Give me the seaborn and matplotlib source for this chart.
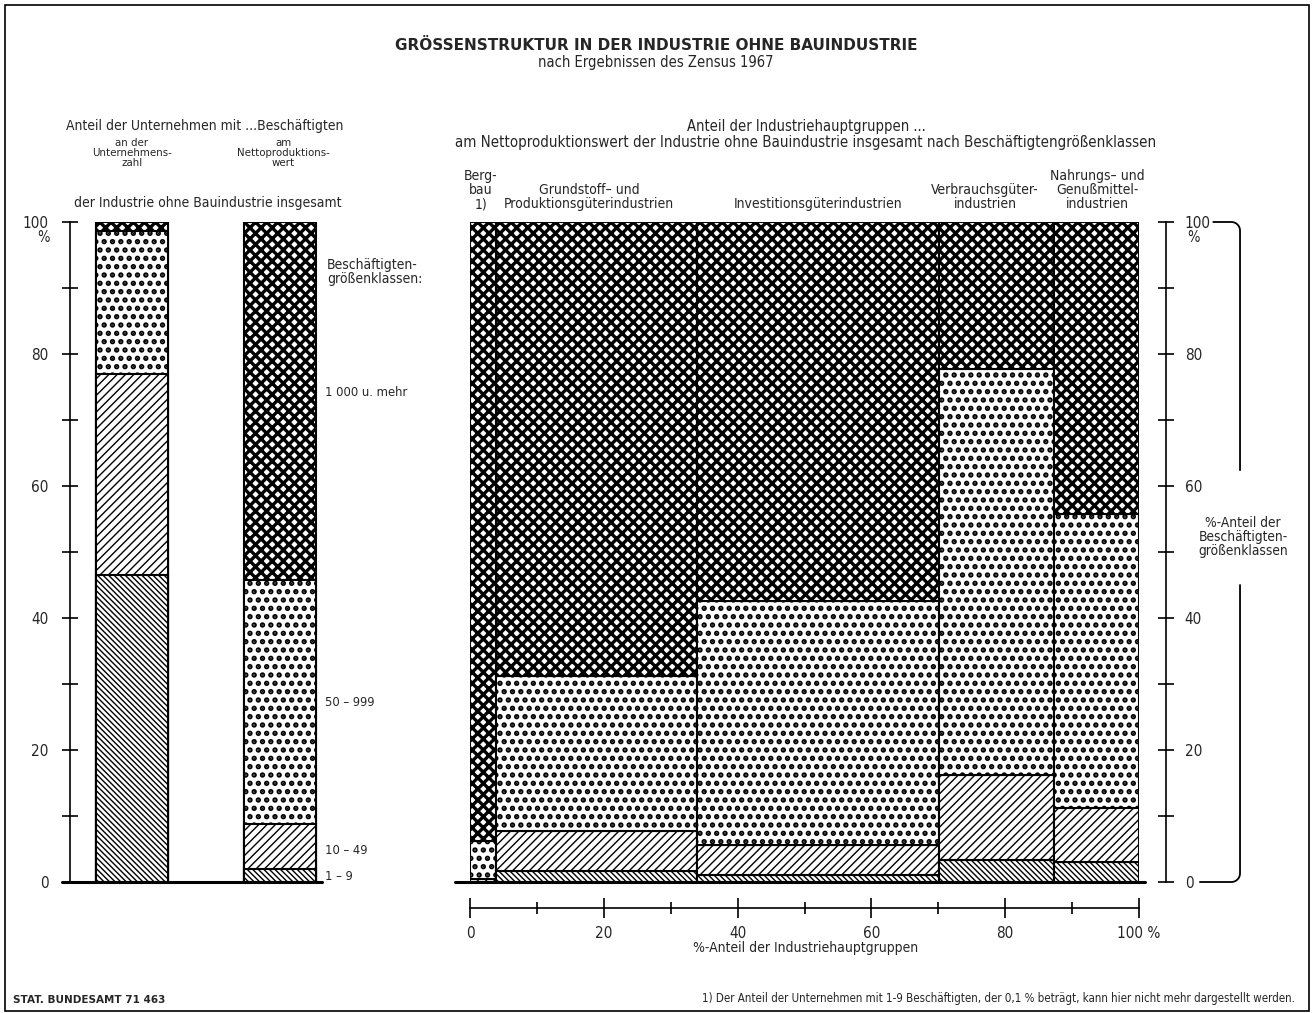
import numpy as np
import pandas as pd
import matplotlib
matplotlib.use('Agg')
import matplotlib.pyplot as plt
import seaborn as sns
from matplotlib.patches import Rectangle

sns.set_style('white')
plt.rcParams['font.family'] = ['DejaVu Sans']
plt.rcParams['font.stretch'] = 'condensed'
plt.rcParams['hatch.color'] = 'black'

# Beschäftigtengrößenklassen und ihre Schraffuren
klassen = ['1 – 9', '10 – 49', '50 – 999', '1 000 u. mehr']
schraffur = ['\\' * 6, '////', '..', 'xxx']
schraffur_lw = [1.0, 1.0, 2.6, 2.4]

# linker Teil: Anteil der Unternehmen (%)
links_bezug = ['Unternehmenszahl', 'Nettoproduktionswert']
links_1_9 = [46.5, 2.0]
links_10_49 = [30.5, 6.8]
links_50_999 = [21.6, 37.0]
links_1000 = [1.4, 54.2]

# rechter Teil: Industriehauptgruppen (Breite = Anteil am Nettoproduktionswert)
gruppen = ['Bergbau', 'Grundstoff', 'Investition', 'Verbrauch', 'Nahrung']
gruppen_breite = [3.9, 30.0, 36.2, 17.2, 12.7]
rechts_1_9 = [0.0, 1.6, 1.0, 3.3, 3.0]
rechts_10_49 = [0.4, 6.1, 4.6, 12.9, 8.2]
rechts_50_999 = [5.8, 23.5, 37.0, 61.5, 44.6]
rechts_1000 = [93.8, 68.8, 57.4, 22.3, 44.2]

W, H = 1313, 1013
fig = plt.figure(figsize=(W / 100, H / 100), dpi=100)


def fx(px):
    return px / W


def fy(py):
    return 1 - py / H


def hatch_lw(patch, lw):
    try:
        patch.set_hatch_linewidth(lw)
    except AttributeError:
        pass


# ---------------- linker Teil ----------------
ax1 = fig.add_axes([fx(70), fy(882), (322 - 70) / W, 660 / H])
df = pd.DataFrame({'bezug': links_bezug, klassen[0]: links_1_9, klassen[1]: links_10_49,
                   klassen[2]: links_50_999, klassen[3]: links_1000})
kum = df[klassen].cumsum(axis=1)
kum['bezug'] = df['bezug']

# übereinander gezeichnete kumulierte Balken = gestapelte Balken
for i in reversed(range(len(klassen))):
    plt.rcParams['hatch.linewidth'] = schraffur_lw[i]
    n0 = len(ax1.patches)
    sns.barplot(data=kum, x='bezug', y=klassen[i], color='white', saturation=1,
                edgecolor='black', linewidth=1.5, width=0.486, errorbar=None, ax=ax1)
    for p in ax1.patches[n0:]:
        p.set_hatch(schraffur[i])
        hatch_lw(p, schraffur_lw[i])

ax1.set_xlim(-0.419, 1.284)
ax1.set_ylim(0, 100)
ax1.set_xlabel('')
ax1.set_ylabel('')
ax1.set_xticks([])
for s in ['top', 'right', 'bottom']:
    ax1.spines[s].set_visible(False)
ax1.spines['left'].set_linewidth(1.2)
ax1.spines['left'].set_color('black')
ax1.set_yticks([0, 20, 40, 60, 80, 100])
ax1.set_yticklabels(['0', '20', '40', '60', '80', '100'])
ax1.set_yticks([10, 30, 50, 70, 90], minor=True)
ax1.tick_params(axis='y', which='both', direction='inout', length=11, width=1.2,
                color='black', labelsize=11, pad=10, left=True)
ax1.plot([-0.473, 1.284], [0, 0], color='black', lw=2.2, clip_on=False)
ax1.text(-0.60, 97.6, '%', ha='center', va='center', fontsize=10.5)

# Klassenbeschriftungen
fig.text(fx(327), fy(272), 'Beschäftigten-\ngrößenklassen:', ha='left', va='center',
         fontsize=10, linespacing=1.0)
for lab, py in zip(klassen[::-1], [392, 703, 851, 876]):
    fig.text(fx(325), fy(py), lab, ha='left', va='center', fontsize=9.3)

# ---------------- rechter Teil ----------------
ax2 = fig.add_axes([fx(470), fy(882), (1139 - 470) / W, 660 / H])
rechts = [rechts_1_9, rechts_10_49, rechts_50_999, rechts_1000]
links_kante = np.concatenate([[0], np.cumsum(gruppen_breite)[:-1]])
for j, g in enumerate(gruppen):
    boden = 0.0
    for i in range(len(klassen)):
        wert = rechts[i][j]
        if wert > 0:
            plt.rcParams['hatch.linewidth'] = schraffur_lw[i]
            bars = ax2.bar(links_kante[j], wert, width=gruppen_breite[j], bottom=boden,
                           align='edge', color='white', edgecolor='black', lw=1.5,
                           hatch=schraffur[i])
            for p in bars:
                hatch_lw(p, schraffur_lw[i])
        boden += wert

ax2.set_xlim(0, 100)
ax2.set_ylim(0, 100)
ax2.spines['left'].set_visible(False)
ax2.spines['top'].set_visible(False)
ax2.spines['right'].set_position(('outward', 19.4))
ax2.spines['bottom'].set_position(('outward', 18.7))
for s in ['right', 'bottom']:
    ax2.spines[s].set_linewidth(1.2)
    ax2.spines[s].set_color('black')
ax2.yaxis.tick_right()
ax2.set_yticks([0, 20, 40, 60, 80, 100])
ax2.set_yticklabels(['0', '20', '40', '60', '80', '100'])
ax2.set_yticks([10, 30, 50, 70, 90], minor=True)
ax2.tick_params(axis='y', which='both', direction='inout', length=11, width=1.2,
                color='black', labelsize=11, pad=8, right=True, left=False)
ax2.set_xticks([0, 20, 40, 60, 80, 100])
ax2.set_xticklabels(['0', '20', '40', '60', '80', '100 %'])
ax2.set_xticks([10, 30, 50, 70, 90], minor=True)
ax2.tick_params(axis='x', which='major', direction='inout', length=14, width=1.2,
                color='black', labelsize=11, pad=6, bottom=True)
ax2.tick_params(axis='x', which='minor', direction='inout', length=8, width=1.2,
                color='black', bottom=True)
ax2.plot([-2.24, 100.9], [0, 0], color='black', lw=2.2, clip_on=False)
ax2.text(108.1, 97.6, '%', ha='center', va='center', fontsize=10.5)

# Klammer am rechten Rand
r = 1.3
x0, x1 = 111.1, 115.1
bogen = np.linspace(0, np.pi / 2, 12)
oben_x = np.concatenate([[x0], x1 - r + r * np.sin(bogen), [x1]])
oben_y = np.concatenate([[100], 100 - r + r * np.cos(bogen), [62.4]])
ax2.plot(oben_x, oben_y, color='black', lw=1.3, clip_on=False)
unten_x = np.concatenate([[x1], x1 - r + r * np.cos(bogen), [109.1]])
unten_y = np.concatenate([[45.0], r - r * np.sin(bogen), [0]])
ax2.plot(unten_x, unten_y, color='black', lw=1.3, clip_on=False)
fig.text(fx(1243), fy(537), '%-Anteil der\nBeschäftigten-\ngrößenklassen', ha='center',
         va='center', fontsize=9.8, linespacing=1.0)

# Gruppenbeschriftungen
gruppen_text = ['Berg-\nbau\n1)', 'Grundstoff– und\nProduktionsgüterindustrien',
                'Investitionsgüterindustrien', 'Verbrauchsgüter-\nindustrien',
                'Nahrungs– und\nGenußmittel-\nindustrien']
gruppen_px = [481, 589, 818, 985, 1097]
for t, px in zip(gruppen_text, gruppen_px):
    fig.text(fx(px), fy(211), t, ha='center', va='bottom', fontsize=10, linespacing=1.0)

# ---------------- Texte ----------------
fig.text(fx(656), fy(45), 'GRÖSSENSTRUKTUR IN DER INDUSTRIE OHNE BAUINDUSTRIE', ha='center',
         va='center', fontsize=11, fontweight='bold', fontstretch='normal')
fig.text(fx(656), fy(63), 'nach Ergebnissen des Zensus 1967', ha='center', va='center',
         fontsize=10.5)
fig.text(fx(205), fy(126), 'Anteil der Unternehmen mit ...Beschäftigten', ha='center',
         va='center', fontsize=10)
fig.text(fx(132), fy(153), 'an der\nUnternehmens-\nzahl', ha='center', va='center',
         fontsize=8.2, linespacing=1.0)
fig.text(fx(283), fy(153), 'am\nNettoproduktions-\nwert', ha='center', va='center',
         fontsize=8.2, linespacing=1.0)
fig.text(fx(208), fy(203), 'der Industrie ohne Bauindustrie insgesamt', ha='center',
         va='center', fontsize=10)
fig.text(fx(806), fy(126), 'Anteil der Industriehauptgruppen ...', ha='center',
         va='center', fontsize=10.5)
fig.text(fx(806), fy(143), 'am Nettoproduktionswert der Industrie ohne Bauindustrie insgesamt '
         'nach Beschäftigtengrößenklassen', ha='center', va='center', fontsize=10.8)
fig.text(fx(806), fy(948), '%-Anteil der Industriehauptgruppen', ha='center', va='center',
         fontsize=10)
fig.text(fx(702), fy(998), '1) Der Anteil der Unternehmen mit 1-9 Beschäftigten, der 0,1 % '
         'beträgt, kann hier nicht mehr dargestellt werden.', ha='left', va='center',
         fontsize=8.3)
fig.text(fx(13), fy(1000), 'STAT. BUNDESAMT 71 463', ha='left', va='center', fontsize=7.5,
         fontweight='bold', fontstretch='normal')

# Rahmen
fig.add_artist(Rectangle((fx(5), fy(1011)), fx(1309) - fx(5), fy(5) - fy(1011),
                         transform=fig.transFigure, fill=False, edgecolor='black', lw=1.2))

fig.savefig('out.png', dpi=100)
